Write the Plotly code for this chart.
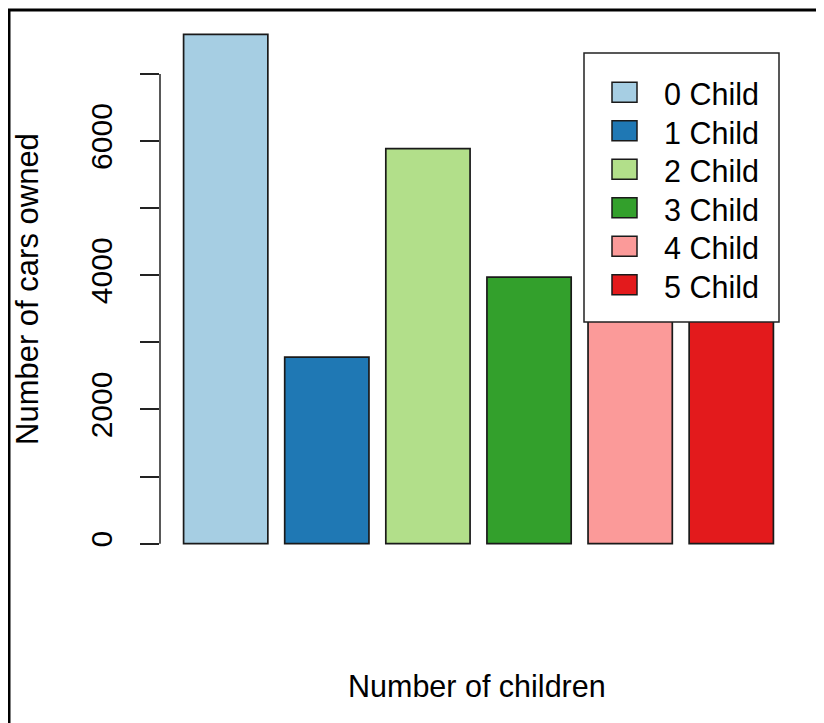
import plotly.graph_objects as go

categories = ["0 Child", "1 Child", "2 Child", "3 Child", "4 Child", "5 Child"]
cars_owned = [7590, 2780, 5887, 3973, 4000, 3600]
colors = ["#A6CEE3", "#1F78B4", "#B2DF8A", "#33A02C", "#FB9A99", "#E31A1C"]
y_ticks = [0, 1000, 2000, 3000, 4000, 5000, 6000, 7000]
y_tick_labels = ["0", "", "2000", "", "4000", "", "6000", ""]

FONT = "Arial, Liberation Sans, sans-serif"
W, H = 808, 715           # page body has an 8px margin
ML, MR, MT, MB = 152, 19, 6, 159
PW, PH = W - ML - MR, H - MT - MB

def px(xpix):   # screen x -> paper
    return (xpix - 8 - ML) / PW

def py(ypix):   # screen y -> paper
    return (H - MB + 8 - ypix) / PH

# R barplot geometry: width 1, space 0.2
xpos = [0.2 + 0.5 + 1.2 * i for i in range(len(categories))]
xmin, xmax = 0.2, 0.2 + 1.2 * len(categories) - 0.2
xpad = 0.04 * (xmax - xmin)
ymax = max(cars_owned)
ypad = 0.04 * ymax

fig = go.Figure()
for i, (c, v, col) in enumerate(zip(categories, cars_owned, colors)):
    fig.add_trace(go.Bar(
        x=[xpos[i]], y=[v], width=1, name=c,
        marker=dict(color=col, line=dict(color="#1a1a1a", width=1.7)),
        showlegend=False,
    ))

shapes = [
    dict(type="line", xref="paper", yref="y", x0=0, x1=0, y0=y_ticks[0], y1=y_ticks[-1],
         line=dict(color="#222", width=1.5)),
    dict(type="rect", xref="paper", yref="paper", x0=px(9), x1=1.3, y0=-0.5, y1=py(10),
         line=dict(color="black", width=3), fillcolor="rgba(0,0,0,0)", layer="above"),
    # legend box
    dict(type="rect", xref="paper", yref="paper", x0=px(584), x1=px(779), y0=py(322), y1=py(53),
         line=dict(color="#222", width=1.5), fillcolor="white", layer="above"),
]
annotations = [
    dict(text="Number of cars owned", xref="paper", yref="paper", x=px(27), y=py(289),
         xanchor="center", yanchor="middle",
         textangle=-90, showarrow=False, font=dict(family=FONT, size=31, color="black")),
    dict(text="Number of children", xref="paper", yref="paper", x=px(477), y=py(686),
         xanchor="center", yanchor="middle",
         showarrow=False, font=dict(family=FONT, size=30.5, color="black")),
]
row0, step = 92.2, 38.5
for i, (c, col) in enumerate(zip(categories, colors)):
    yc = row0 + step * i
    shapes.append(dict(type="rect", xref="paper", yref="paper",
                       x0=px(612), x1=px(637), y0=py(yc + 10), y1=py(yc - 10),
                       line=dict(color="#1a1a1a", width=1.5), fillcolor=col, layer="above"))
    annotations.append(dict(text=c, xref="paper", yref="paper", x=px(662), y=py(yc + 2),
                            xanchor="left", yanchor="middle", showarrow=False,
                            font=dict(family=FONT, size=30.5, color="black")))

fig.update_layout(
    width=W, height=H,
    margin=dict(l=ML, r=MR, t=MT, b=MB),
    paper_bgcolor="white", plot_bgcolor="white",
    font=dict(family=FONT, size=30, color="black"),
    showlegend=False,
    xaxis=dict(range=[xmin - xpad, xmax + xpad], visible=False, fixedrange=True),
    yaxis=dict(
        range=[-ypad, ymax + ypad], tickvals=y_ticks, ticktext=y_tick_labels,
        tickangle=-90, ticks="outside", ticklen=19, tickwidth=1.5, tickcolor="#222",
        ticklabelstandoff=16,
        showgrid=False, zeroline=False, showline=False,
        tickfont=dict(family=FONT, size=30, color="black"),
    ),
    annotations=annotations,
    shapes=shapes,
)

fig.write_html("out.html")
